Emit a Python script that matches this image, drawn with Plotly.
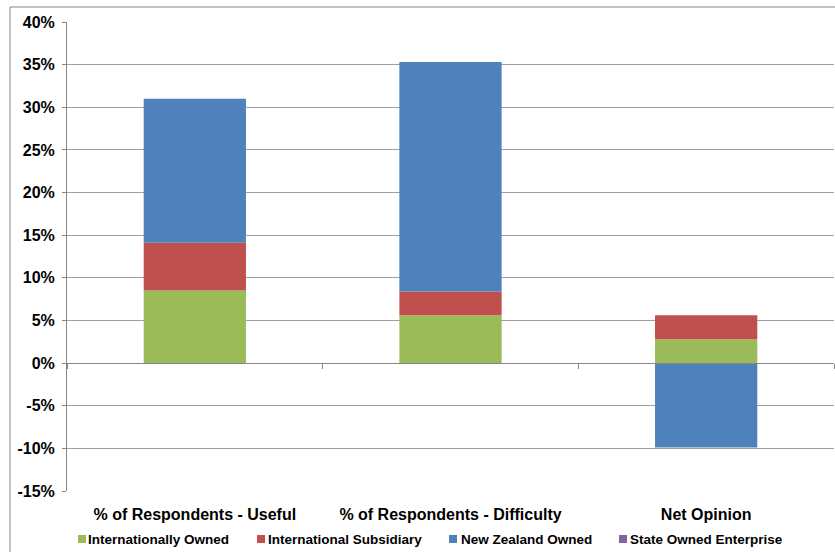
import plotly.graph_objects as go

# Share of respondents by ownership type (fractions)
categories = ["% of Respondents - Useful", "% of Respondents - Difficulty", "Net Opinion"]
series_names = ["Internationally Owned", "International Subsidiary", "New Zealand Owned", "State Owned Enterprise"]
internationally_owned = [0.085, 0.056, 0.028]
international_subsidiary = [0.056, 0.028, 0.028]
new_zealand_owned = [0.169, 0.269, -0.099]
state_owned_enterprise = [0.0, 0.0, 0.0]
series_colors = ["#9BBB59", "#C0504D", "#4F81BD", "#8064A2"]

y_tick_vals = [-0.15, -0.10, -0.05, 0.0, 0.05, 0.10, 0.15, 0.20, 0.25, 0.30, 0.35, 0.40]
y_tick_text = ["-15%", "-10%", "-5%", "0%", "5%", "10%", "15%", "20%", "25%", "30%", "35%", "40%"]

W, H = 835, 552
M_L, M_R, M_T, M_B = 67, 1, 22, 61
PW, PH = W - M_L - M_R, H - M_T - M_B
Y_MIN, Y_MAX = -0.15, 0.40


def px_x(p):
    return (p - M_L) / PW


def px_y(p):
    return (H - M_B - p) / PH


FONT = "Liberation Sans, Arial, sans-serif"
AXIS_GREY = "#868686"

fig = go.Figure()
values = [internationally_owned, international_subsidiary, new_zealand_owned, state_owned_enterprise]
for name, vals, color in zip(series_names, values, series_colors):
    fig.add_trace(go.Bar(
        x=categories, y=vals, name=name, width=0.4,
        marker=dict(color=color, line=dict(width=0)),
        xaxis="x", yaxis="y", showlegend=False,
    ))

# Invisible helper trace for the category label axis at the bottom
fig.add_trace(go.Scatter(
    x=categories, y=[0, 0, 0], mode="markers", marker=dict(opacity=0),
    xaxis="x2", yaxis="y", showlegend=False, hoverinfo="skip",
))

zero_pos = (0 - Y_MIN) / (Y_MAX - Y_MIN)

# Border around the chart area
bx, by = px_x(10), px_y(7)
shapes = [dict(type="path", xref="paper", yref="paper",
               path=f"M {bx},{px_y(560)} L {bx},{by} L {px_x(840)},{by}",
               line=dict(color=AXIS_GREY, width=1))]

# Custom legend row
legend_swatch_x = [78, 257, 449, 619]
legend_text_x = [87, 267, 460, 629]
legend_y = 539
annotations = []
for name, color, sx, tx in zip(series_names, series_colors, legend_swatch_x, legend_text_x):
    shapes.append(dict(type="rect", xref="paper", yref="paper",
                       x0=px_x(sx), x1=px_x(sx + 8),
                       y0=px_y(legend_y - 4), y1=px_y(legend_y + 4),
                       fillcolor=color, line=dict(width=0)))
    annotations.append(dict(text=name, xref="paper", yref="paper",
                            x=px_x(tx), y=px_y(legend_y), xanchor="left", yanchor="middle",
                            showarrow=False, borderpad=0,
                            font=dict(family=FONT, size=13.5, color="#000000", weight="bold")))

fig.update_layout(
    width=W, height=H,
    margin=dict(l=M_L, r=M_R, t=M_T, b=M_B),
    paper_bgcolor="white", plot_bgcolor="white",
    barmode="relative", bargap=0.6,
    shapes=shapes, annotations=annotations,
    xaxis=dict(
        type="category", range=[-0.5, 2.5], anchor="free", position=zero_pos,
        showline=True, linecolor=AXIS_GREY, linewidth=1,
        ticks="outside", tickson="boundaries", ticklen=5, tickcolor=AXIS_GREY,
        showticklabels=False, showgrid=False, zeroline=False,
    ),
    xaxis2=dict(
        type="category", range=[-0.5, 2.5], overlaying="x", anchor="y", side="bottom",
        showline=False, ticks="", showgrid=False, zeroline=False,
        ticklabelstandoff=12,
        tickfont=dict(family=FONT, size=16, color="#000000", weight="bold"),
    ),
    yaxis=dict(
        range=[Y_MIN, Y_MAX], tickvals=y_tick_vals, ticktext=y_tick_text,
        showline=True, linecolor=AXIS_GREY, linewidth=1,
        ticks="outside", ticklen=4, tickcolor=AXIS_GREY,
        ticklabelstandoff=4,
        showgrid=True, gridcolor="#A0A0A0", gridwidth=1, zeroline=False,
        tickfont=dict(family=FONT, size=16, color="#000000", weight="bold"),
    ),
)

fig.write_html("out.html")
